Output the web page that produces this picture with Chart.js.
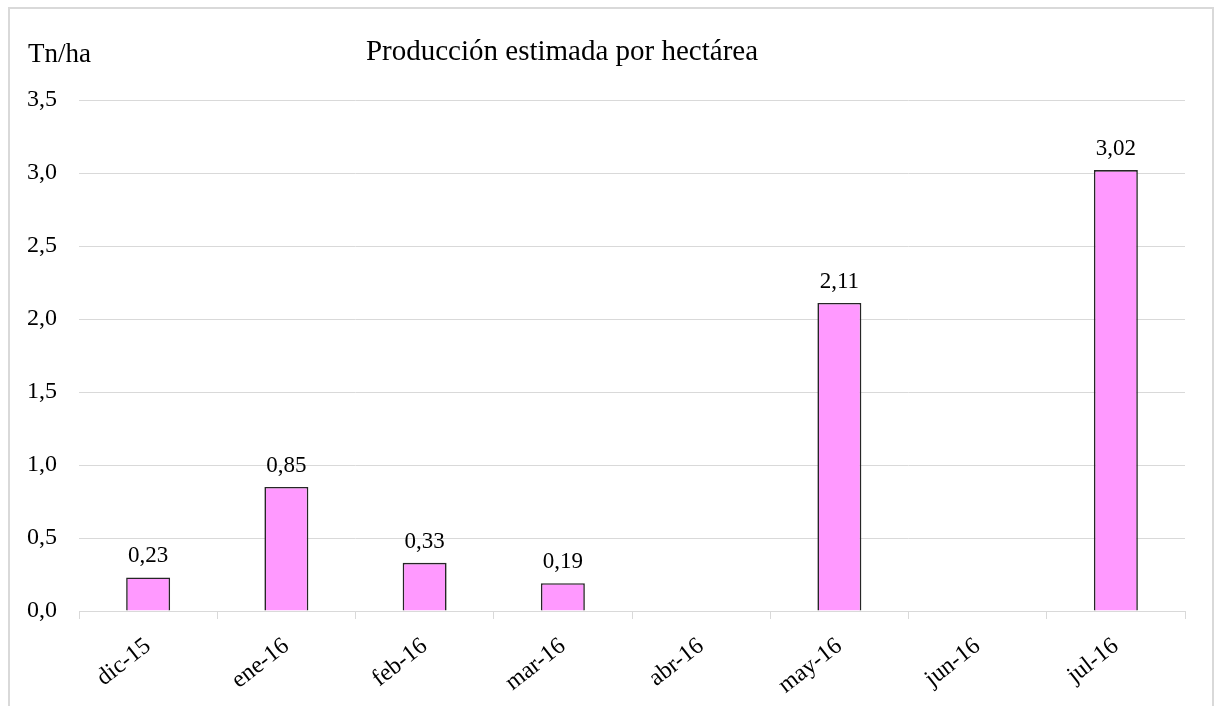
<!DOCTYPE html>
<html lang="es">
<head>
<meta charset="utf-8">
<title>Producción estimada por hectárea</title>
<script src="https://cdn.jsdelivr.net/npm/chart.js@4/dist/chart.umd.min.js"></script>
<style>
    body { margin: 0; background: #fff; }
    canvas { display: block; }
</style>
</head>
<body>
<canvas id="grafico-produccion" width="1214" height="706"></canvas>
<script>
// Datos
const meses = ["dic-15", "ene-16", "feb-16", "mar-16", "abr-16", "may-16", "jun-16", "jul-16"];
const produccion = [0.23, 0.85, 0.33, 0.19, null, 2.11, null, 3.02];
const marcasY = [0, 0.5, 1, 1.5, 2, 2.5, 3, 3.5];

const fuente = "'Liberation Serif', 'Times New Roman', serif";
const gris = '#d9d9d9';

function conComa(valor, decimales) {
    return valor.toFixed(decimales).replace('.', ',');
}

// Fondo blanco y el borde gris del recuadro (la imagen está recortada abajo)
const pluginFondo = {
    id: 'fondo',
    beforeDraw(chart) {
        const ctx = chart.ctx;
        ctx.save();
        ctx.fillStyle = '#fff';
        ctx.fillRect(0, 0, chart.width, chart.height);
        ctx.strokeStyle = gris;
        ctx.lineWidth = 2;
        ctx.beginPath();
        ctx.moveTo(9, chart.height);
        ctx.lineTo(9, 8);
        ctx.lineTo(chart.width - 1, 8);
        ctx.lineTo(chart.width - 1, chart.height);
        ctx.stroke();
        ctx.restore();
    }
};

// Título y unidad del eje
const pluginTextos = {
    id: 'textos',
    afterDraw(chart) {
        const ctx = chart.ctx;
        ctx.save();
        ctx.fillStyle = '#000';
        ctx.textBaseline = 'alphabetic';
        ctx.font = `29px ${fuente}`;
        ctx.textAlign = 'center';
        ctx.fillText('Producción estimada por hectárea', 562, 60);
        ctx.font = `27px ${fuente}`;
        ctx.textAlign = 'left';
        ctx.fillText('Tn/ha', 28, 62);
        ctx.restore();
    }
};

// Etiquetas de valor encima de cada barra
const pluginEtiquetas = {
    id: 'etiquetas',
    afterDatasetsDraw(chart) {
        const ctx = chart.ctx;
        const meta = chart.getDatasetMeta(0);
        ctx.save();
        ctx.fillStyle = '#000';
        ctx.font = `23px ${fuente}`;
        ctx.textAlign = 'center';
        ctx.textBaseline = 'alphabetic';
        meta.data.forEach((barra, i) => {
            const valor = produccion[i];
            if (valor === null) return;
            ctx.fillText(conComa(valor, 2), barra.x, barra.y - 15);
        });
        ctx.restore();
    }
};

const ctx = document.getElementById('grafico-produccion').getContext('2d');

new Chart(ctx, {
    type: 'bar',
    data: {
        labels: meses,
        datasets: [{
            label: 'Tn/ha',
            data: produccion,
            backgroundColor: '#ff99ff',
            borderColor: '#262626',
            borderWidth: 1.6,
            categoryPercentage: 1,
            barPercentage: 0.318
        }]
    },
    options: {
        responsive: false,
        animation: false,
        layout: {
            padding: { top: 100, right: 29, bottom: 0, left: 0 }
        },
        plugins: {
            legend: { display: false },
            title: { display: false },
            tooltip: { enabled: false }
        },
        scales: {
            x: {
                grid: {
                    display: true,
                    drawOnChartArea: false,
                    color: gris,
                    tickLength: 8
                },
                border: { display: true, color: gris, width: 1 },
                ticks: {
                    color: '#000',
                    font: { family: fuente, size: 24 },
                    minRotation: 38,
                    maxRotation: 38,
                    padding: 13
                },
                afterFit(escala) { escala.height = 95; }
            },
            y: {
                min: 0,
                max: 3.5,
                afterBuildTicks(escala) {
                    escala.ticks = marcasY.map(v => ({ value: v }));
                },
                grid: { color: gris, drawTicks: false },
                border: { display: false },
                ticks: {
                    color: '#000',
                    font: { family: fuente, size: 24 },
                    padding: 22,
                    callback: (valor) => conComa(valor, 1)
                },
                afterFit(escala) { escala.width = 79; }
            }
        }
    },
    plugins: [pluginFondo, pluginEtiquetas, pluginTextos]
});
</script>
</body>
</html>
